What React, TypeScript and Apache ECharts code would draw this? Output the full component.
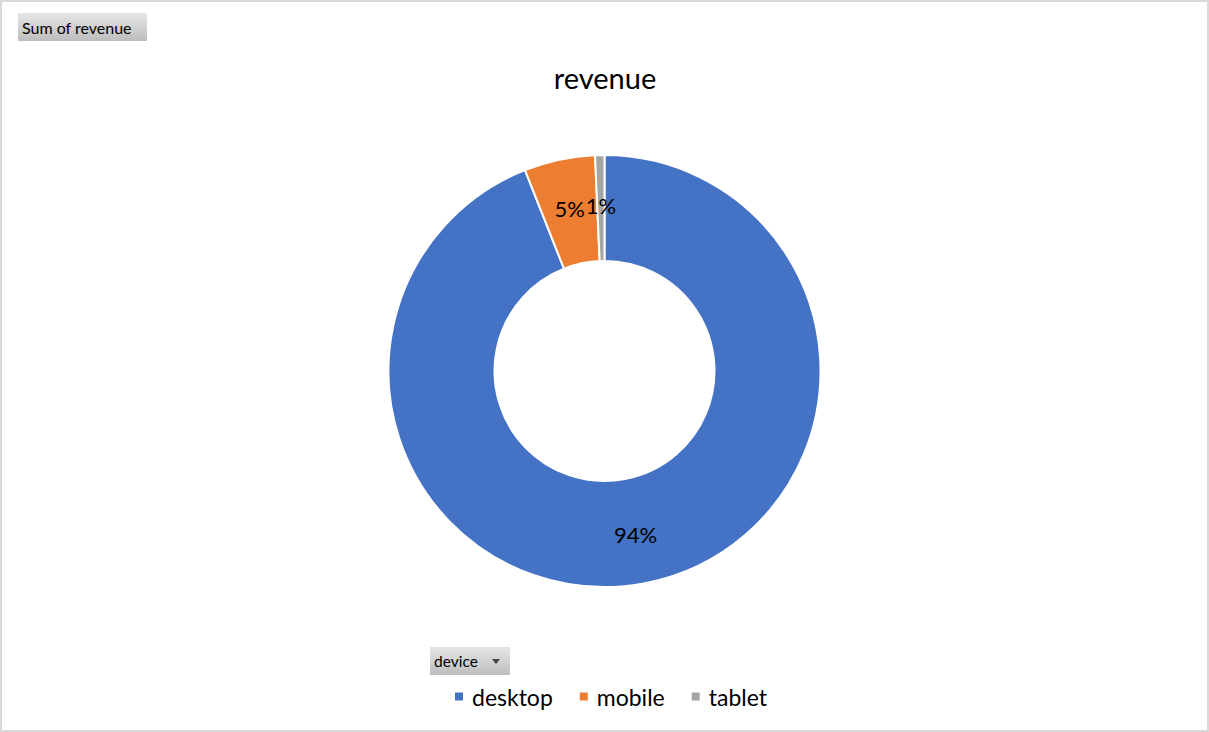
import React, { useEffect, useRef } from "react";
import * as echarts from "echarts";

const categories = ["desktop", "mobile", "tablet"];
const revenueShare = [94.0, 5.3, 0.7];
const colors = ["#4472C4", "#ED7D31", "#A5A5A5"];
const titleText = "revenue";
const fieldButton = "Sum of revenue";
const axisButton = "device";

const FONT = "Lato, 'Open Sans', sans-serif";

export default function App() {
  const ref = useRef<HTMLDivElement>(null);
  useEffect(() => {
    document.body.style.margin = "0";
    const chart = echarts.init(ref.current!, undefined, { renderer: "svg" });
    const btnFill = new echarts.graphic.LinearGradient(0, 0, 0, 1, [
      { offset: 0, color: "#e6e6e6" },
      { offset: 1, color: "#bdbdbd" },
    ]);
    const btnFill2 = new echarts.graphic.LinearGradient(0, 0, 0, 1, [
      { offset: 0, color: "#e6e6e6" },
      { offset: 1, color: "#bdbdbd" },
    ]);
    chart.setOption({
      animation: false,
      backgroundColor: "#ffffff",
      title: {
        text: titleText,
        left: 600,
        textAlign: "center",
        top: 58,
        textStyle: { fontFamily: FONT, fontSize: 29, fontWeight: "normal", color: "#000" },
      },
      legend: {
        data: categories,
        left: 453,
        top: 685,
        padding: 0,
        icon: "rect",
        itemWidth: 10,
        itemHeight: 10,
        itemGap: 25,
        textStyle: { fontFamily: FONT, fontSize: 23, color: "#000", padding: [0, 0, 0, 3] },
      },
      graphic: [
        {
          type: "rect",
          shape: { x: 1, y: 1, width: 1207, height: 730 },
          style: { fill: "none", stroke: "#d9d9d9", lineWidth: 2 },
          silent: true,
        },
        {
          type: "rect",
          shape: { x: 18, y: 13, width: 129, height: 28 },
          style: { fill: btnFill },
        },
        {
          type: "text",
          x: 22,
          y: 27,
          style: {
            text: fieldButton,
            fontFamily: FONT,
            fontSize: 16,
            fill: "#000",
            verticalAlign: "middle",
          },
        },
        {
          type: "rect",
          shape: { x: 430, y: 647, width: 80, height: 28 },
          style: { fill: btnFill2 },
        },
        {
          type: "text",
          x: 434,
          y: 661,
          style: {
            text: axisButton,
            fontFamily: FONT,
            fontSize: 15.5,
            fill: "#000",
            verticalAlign: "middle",
          },
        },
        {
          type: "polygon",
          shape: { points: [[492, 659], [500, 659], [496, 664]] },
          style: { fill: "#404040" },
        },
      ],
      series: [
        {
          type: "pie",
          center: [604.5, 371],
          radius: [110, 216],
          startAngle: 90,
          clockwise: true,
          data: categories.map((c, i) => ({
            name: c,
            value: revenueShare[i],
            itemStyle: { color: colors[i] },
          })),
          itemStyle: { borderColor: "#ffffff", borderWidth: 2 },
          label: {
            show: true,
            position: "inside",
            fontFamily: FONT,
            fontSize: 22,
            color: "#000",
            formatter: (p: any) => Math.round(p.percent) + "%",
          },
          labelLine: { show: false },
          emphasis: { disabled: true },
        },
      ],
    });
    return () => chart.dispose();
  }, []);
  return <div ref={ref} style={{ width: 1209, height: 732 }} />;
}
